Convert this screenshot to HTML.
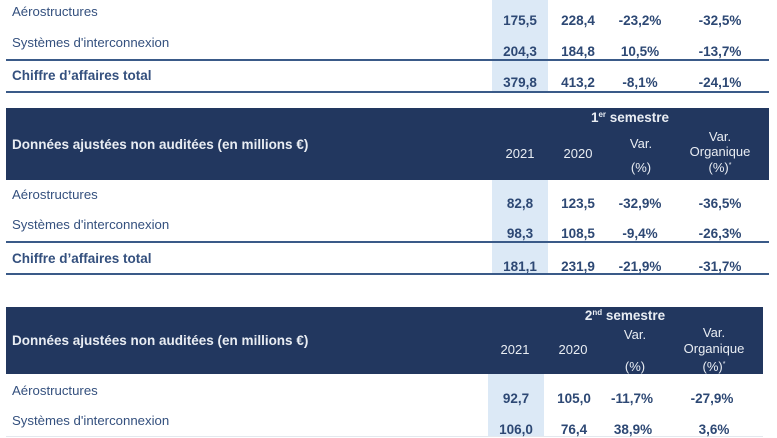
<!DOCTYPE html>
<html><head><meta charset="utf-8">
<style>
html,body{margin:0;padding:0;background:#fff;}
body{width:777px;height:437px;position:relative;overflow:hidden;font-family:"Liberation Sans",Arial,sans-serif;}
.a{position:absolute;white-space:nowrap;line-height:16px;font-size:13.2px;}
.lab{color:#34507e;left:12px;}
.b{font-weight:bold;font-size:13.5px;}
.num{color:#2d4874;font-weight:bold;text-align:center;width:80px;font-size:13.5px;}
.hd{position:absolute;background:#22375f;}
.h{color:#e9edf3;text-align:center;width:100px;font-size:13px;}
.hb{color:#e9edf3;font-weight:bold;font-size:13.5px;}
.col{position:absolute;background:#dce9f6;}
.ln{position:absolute;height:2px;background:#3a5a88;}
sup{font-size:8px;vertical-align:5px;line-height:0;}
</style></head><body>

<!-- light blue columns -->
<div class="col" style="left:492px;top:0;width:56px;height:92px;"></div>
<div class="col" style="left:492px;top:180px;width:56px;height:94px;"></div>
<div class="col" style="left:488px;top:374px;width:56px;height:63px;"></div>

<!-- Table 1 -->
<div class="a lab" style="top:4px;">Aérostructures</div>
<div class="a lab" style="top:35px;">Systèmes d'interconnexion</div>
<div class="a lab b" style="top:68px;">Chiffre d’affaires total</div>
<div class="ln" style="left:6px;top:59px;width:763px;"></div>
<div class="ln" style="left:6px;top:91px;width:763px;"></div>

<div class="a num" style="left:480px;top:13px;">175,5</div>
<div class="a num" style="left:538px;top:13px;">228,4</div>
<div class="a num" style="left:600px;top:13px;">-23,2%</div>
<div class="a num" style="left:680px;top:13px;">-32,5%</div>

<div class="a num" style="left:480px;top:44px;">204,3</div>
<div class="a num" style="left:538px;top:44px;">184,8</div>
<div class="a num" style="left:600px;top:44px;">10,5%</div>
<div class="a num" style="left:680px;top:44px;">-13,7%</div>

<div class="a num" style="left:480px;top:75px;">379,8</div>
<div class="a num" style="left:538px;top:75px;">413,2</div>
<div class="a num" style="left:600px;top:75px;">-8,1%</div>
<div class="a num" style="left:680px;top:75px;">-24,1%</div>

<!-- Table 2 header -->
<div class="hd" style="left:6px;top:108px;width:763px;height:72px;"></div>
<div class="a hb" style="left:575px;top:110px;width:110px;text-align:center;">1<sup>er</sup> semestre</div>
<div class="a hb" style="left:12px;top:137px;">Données ajustées non auditées (en millions €)</div>
<div class="a h" style="left:470px;top:146px;">2021</div>
<div class="a h" style="left:528px;top:146px;">2020</div>
<div class="a h" style="left:591px;top:136px;">Var.</div>
<div class="a h" style="left:591px;top:160px;">(%)</div>
<div class="a h" style="left:670px;top:129px;">Var.</div>
<div class="a h" style="left:670px;top:144px;">Organique</div>
<div class="a h" style="left:670px;top:160px;">(%)<sup style="font-size:7px;">*</sup></div>

<!-- Table 2 rows -->
<div class="a lab" style="top:187px;">Aérostructures</div>
<div class="a lab" style="top:217px;">Systèmes d'interconnexion</div>
<div class="a lab b" style="top:251px;">Chiffre d’affaires total</div>
<div class="ln" style="left:6px;top:241px;width:763px;"></div>
<div class="ln" style="left:6px;top:273px;width:763px;"></div>

<div class="a num" style="left:480px;top:196px;">82,8</div>
<div class="a num" style="left:538px;top:196px;">123,5</div>
<div class="a num" style="left:600px;top:196px;">-32,9%</div>
<div class="a num" style="left:680px;top:196px;">-36,5%</div>

<div class="a num" style="left:480px;top:226px;">98,3</div>
<div class="a num" style="left:538px;top:226px;">108,5</div>
<div class="a num" style="left:600px;top:226px;">-9,4%</div>
<div class="a num" style="left:680px;top:226px;">-26,3%</div>

<div class="a num" style="left:480px;top:259px;">181,1</div>
<div class="a num" style="left:538px;top:259px;">231,9</div>
<div class="a num" style="left:600px;top:259px;">-21,9%</div>
<div class="a num" style="left:680px;top:259px;">-31,7%</div>

<!-- Table 3 header -->
<div class="hd" style="left:6px;top:307px;width:757px;height:67px;"></div>
<div class="a hb" style="left:570px;top:308px;width:110px;text-align:center;">2<sup>nd</sup> semestre</div>
<div class="a hb" style="left:12px;top:333px;">Données ajustées non auditées (en millions €)</div>
<div class="a h" style="left:465px;top:342px;">2021</div>
<div class="a h" style="left:523px;top:342px;">2020</div>
<div class="a h" style="left:585px;top:327px;">Var.</div>
<div class="a h" style="left:585px;top:359px;">(%)</div>
<div class="a h" style="left:664px;top:325px;">Var.</div>
<div class="a h" style="left:664px;top:341px;">Organique</div>
<div class="a h" style="left:664px;top:359px;">(%)<sup style="font-size:7px;">*</sup></div>

<!-- Table 3 rows -->
<div class="a lab" style="top:383px;">Aérostructures</div>
<div class="a lab" style="top:413px;">Systèmes d'interconnexion</div>
<div style="position:absolute;left:6px;top:436px;width:757px;height:1px;background:#e4e8ee;"></div>

<div class="a num" style="left:476px;top:391px;">92,7</div>
<div class="a num" style="left:534px;top:391px;">105,0</div>
<div class="a num" style="left:592px;top:391px;">-11,7%</div>
<div class="a num" style="left:672px;top:391px;">-27,9%</div>

<div class="a num" style="left:476px;top:422px;">106,0</div>
<div class="a num" style="left:534px;top:422px;">76,4</div>
<div class="a num" style="left:593px;top:422px;">38,9%</div>
<div class="a num" style="left:674px;top:422px;">3,6%</div>

</body></html>
